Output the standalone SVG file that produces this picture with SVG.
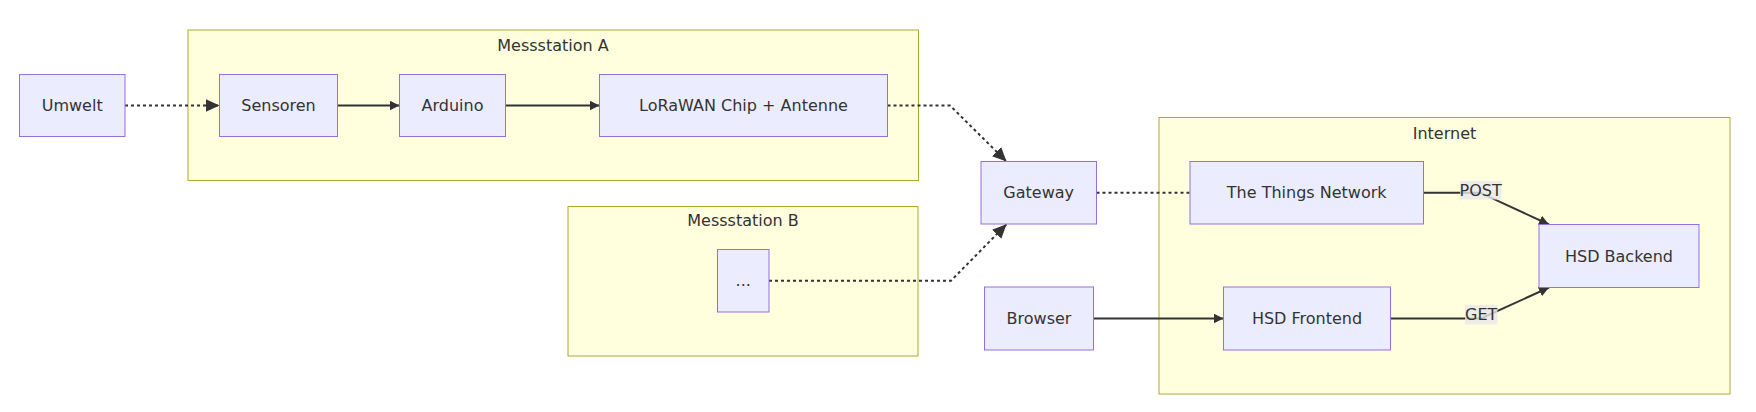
<svg xmlns="http://www.w3.org/2000/svg" width="1756" height="412" viewBox="0 0 1756 412">
<style>
  .cluster rect { fill: #ffffde; stroke: #aaaa33; stroke-width: 1; }
  .node rect { fill: #ececff; stroke: #9370db; stroke-width: 1; }
  text { font-family: "DejaVu Sans", Verdana, sans-serif; font-size: 16px; fill: #333333; text-anchor: middle; dominant-baseline: central; }
  .edge { fill: none; stroke: #333333; stroke-width: 2; }
  .dotted { stroke-dasharray: 3 3; }
  .lbl { fill: rgba(232,232,232,0.8); }
</style>
<defs>
  <marker id="arr" viewBox="0 0 10 10" refX="10" refY="5" markerWidth="10" markerHeight="10" markerUnits="userSpaceOnUse" orient="auto">
    <path d="M0,0 L10,5 L0,10 z" fill="#333333"/>
  </marker>
  <marker id="arrBig" viewBox="0 0 14 13" refX="14" refY="6.5" markerWidth="14" markerHeight="13" markerUnits="userSpaceOnUse" orient="auto">
    <path d="M0,0 L14,6.5 L0,13 z" fill="#333333"/>
  </marker>
</defs>
<rect width="1756" height="412" fill="#ffffff"/>

<g id="clusterA" class="cluster">
  <rect x="188" y="30" width="730.5" height="150.5"/>
  <text x="553" y="45.5">Messstation A</text>
</g>
<g id="clusterB" class="cluster">
  <rect x="568" y="206.5" width="350" height="149.5"/>
  <text x="743" y="220">Messstation B</text>
</g>
<g id="clusterInternet" class="cluster">
  <rect x="1159" y="117.5" width="571" height="276.5"/>
  <text x="1444.5" y="133">Internet</text>
</g>

<g id="edges">
  <path class="edge dotted" d="M125,105.5 H219.5" marker-end="url(#arrBig)"/>
  <path class="edge" d="M337.5,105.5 H399.5" marker-end="url(#arr)"/>
  <path class="edge" d="M505.5,105.5 H599.5" marker-end="url(#arr)"/>
  <path class="edge dotted" d="M887.5,105.5 H950 L1006.5,161.5" marker-end="url(#arrBig)"/>
  <path class="edge dotted" d="M769,280.7 H951 L1006.5,224.3" marker-end="url(#arrBig)"/>
  <path class="edge dotted" d="M1096.5,192.7 H1190"/>
  <path class="edge" d="M1093.5,318.5 H1223.5" marker-end="url(#arr)"/>
  <path class="edge" d="M1423.5,192.7 H1480 L1549,224.5" marker-end="url(#arr)"/>
  <path class="edge" d="M1390.5,318.5 H1481 L1549,287.5" marker-end="url(#arr)"/>
  <g id="label-post">
    <rect class="lbl" x="1460" y="181" width="41.5" height="18.5"/>
    <text x="1480.7" y="190.3">POST</text>
  </g>
  <g id="label-get">
    <rect class="lbl" x="1465" y="305" width="32.5" height="19.5"/>
    <text x="1481.2" y="314.8">GET</text>
  </g>
</g>

<g id="Umwelt" class="node">
  <rect x="19.5" y="74.5" width="105.5" height="62"/>
  <text x="72.2" y="105.5">Umwelt</text>
</g>
<g id="Sensoren" class="node">
  <rect x="219.5" y="74.5" width="118" height="62"/>
  <text x="278.5" y="105.5">Sensoren</text>
</g>
<g id="Arduino" class="node">
  <rect x="399.5" y="74.5" width="106" height="62"/>
  <text x="452.5" y="105.5">Arduino</text>
</g>
<g id="LoRaWAN" class="node">
  <rect x="599.5" y="74.5" width="288" height="62"/>
  <text x="743.5" y="105.5">LoRaWAN Chip + Antenne</text>
</g>
<g id="Dots" class="node">
  <rect x="717.5" y="249.5" width="51.5" height="62.5"/>
  <text x="743.2" y="280.7">...</text>
</g>
<g id="Gateway" class="node">
  <rect x="981" y="161.5" width="115.5" height="62.5"/>
  <text x="1038.7" y="192.7">Gateway</text>
</g>
<g id="Browser" class="node">
  <rect x="984.5" y="287" width="109" height="63"/>
  <text x="1039" y="318.5">Browser</text>
</g>
<g id="TTN" class="node">
  <rect x="1190" y="161.5" width="233.5" height="62.5"/>
  <text x="1306.7" y="192.7">The Things Network</text>
</g>
<g id="HSDFrontend" class="node">
  <rect x="1223.5" y="287" width="167" height="63"/>
  <text x="1307" y="318.5">HSD Frontend</text>
</g>
<g id="HSDBackend" class="node">
  <rect x="1539" y="224.5" width="160" height="63"/>
  <text x="1619" y="256">HSD Backend</text>
</g>
</svg>
